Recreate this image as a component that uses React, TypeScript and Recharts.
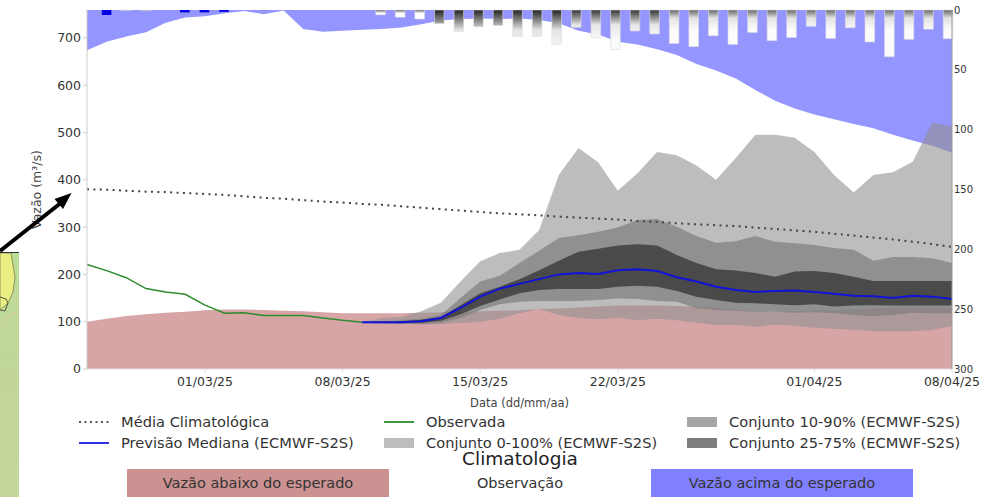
import { Area, Bar, Cell, ComposedChart, Line, XAxis, YAxis } from 'recharts'

const FORECAST_START = 14
const Y_MAX = 759

const dates = ['01/03/25', '08/03/25', '15/03/25', '22/03/25', '01/04/25', '08/04/25']
const dateDays = [6, 13, 20, 27, 37, 44]
const flowTicks = [0, 100, 200, 300, 400, 500, 600, 700]
const rainTicks = [0, 50, 100, 150, 200, 250, 300]

const aboveEdge = [674, 692, 703, 712, 732, 743, 746, 752, 757, 750, 758, 719, 713, 715, 717, 719, 722, 729, 737, 740, 741, 740, 741, 738, 731, 715, 707, 692, 686, 676, 664, 645, 631, 614, 590, 567, 551, 538, 528, 518, 509, 495, 483, 472, 457]
const belowEdge = [100, 106, 112, 116, 119, 121, 124, 126, 126, 125, 123, 122, 120, 118, 118, 118, 118, 119, 120, 121, 122, 123, 124, 127, 128, 130, 132, 134, 134, 134, 133, 132, 130, 126, 122, 121, 122, 124, 125, 126, 128, 130, 130, 130, 129]
const climateMean = [380, 379, 377, 375, 374, 372, 370, 368, 365, 362, 360, 357, 354, 352, 349, 347, 344, 341, 338, 335, 332, 329, 327, 325, 322, 320, 318, 316, 313, 311, 308, 306, 304, 302, 299, 296, 293, 290, 286, 282, 278, 274, 269, 264, 258]
const observed = [221, 208, 193, 170, 163, 158, 135, 118, 119, 113, 113, 113, 108, 103, 99]

// forecast series start at FORECAST_START
const median = [99, 99, 99, 101, 108, 129, 153, 170, 180, 190, 200, 203, 201, 209, 211, 207, 194, 185, 174, 167, 163, 165, 166, 163, 159, 155, 154, 150, 155, 153, 148]
const p0 = [97, 96, 95, 94, 95, 97, 100, 106, 118, 127, 114, 108, 105, 108, 103, 106, 103, 98, 93, 93, 89, 94, 91, 87, 85, 83, 80, 80, 80, 83, 91]
const p100 = [99, 108, 110, 122, 140, 185, 228, 245, 252, 294, 410, 467, 437, 377, 414, 459, 452, 430, 400, 446, 495, 495, 489, 459, 410, 373, 410, 416, 438, 521, 512]
const p10 = [97, 96, 95, 95, 98, 108, 125, 137, 142, 144, 144, 144, 146, 149, 148, 144, 142, 129, 125, 123, 121, 121, 119, 120, 118, 114, 112, 114, 119, 118, 118]
const p90 = [99, 100, 103, 106, 114, 150, 185, 197, 224, 250, 277, 283, 290, 299, 315, 317, 301, 281, 267, 270, 281, 269, 266, 262, 256, 252, 229, 237, 237, 234, 224]
const p25 = [98, 98, 98, 98, 102, 116, 133, 147, 160, 167, 169, 169, 169, 174, 176, 174, 165, 153, 146, 140, 139, 137, 135, 137, 132, 134, 135, 134, 134, 134, 134]
const p75 = [99, 100, 101, 104, 110, 135, 160, 174, 190, 209, 229, 248, 254, 261, 264, 261, 241, 224, 211, 208, 203, 195, 206, 207, 203, 195, 186, 186, 186, 186, 186]

// rain bars, one per day from day 1
const rain = [4.2, 0.4, 0.5, 0, 2, 2, 1.5, 0, 0, 0, 0, 0, 0, 0, 4, 6, 7.5, 11.4, 18, 14, 13, 22, 22, 28.7, 14.5, 23, 33, 17.5, 20, 28, 30.6, 21.5, 28.7, 18.7, 25.6, 23, 13.6, 23.7, 14.8, 26.7, 39, 24.5, 16, 24]
const rainShade = ['blue', 'd', 'd', 'blue', 'blue', 'blue', 'blue', 'd', 'd', 'd', 'd', 'd', 'd', 'd', 'd', 'd', 'd', 'a', 'a', 'a', 'a', 'a', 'a', 'a', 'b', 'b', 'b', 'b', 'b', 'c', 'c', 'c', 'c', 'c', 'c', 'c', 'c', 'c', 'c', 'c', 'c', 'c', 'c', 'c']

const table = aboveEdge.map((edge, day) => {
  const f = day - FORECAST_START
  const inForecast = f >= 0
  return {
    day,
    above: [edge, Y_MAX],
    below: belowEdge[day],
    mean: climateMean[day],
    observed: day < observed.length ? observed[day] : null,
    median: inForecast ? median[f] : null,
    band0: inForecast ? [p0[f], p100[f]] : null,
    band10: inForecast ? [p10[f], p90[f]] : null,
    band25: inForecast ? [p25[f], p75[f]] : null,
    rain: day > 0 ? rain[day - 1] : null,
  }
})

const FONT = '"DejaVu Sans", sans-serif'
const TEXT = '#333'

function Swatch({ x, y, kind, color }: { x: number; y: number; kind: string; color: string }) {
  const box = { position: 'absolute' as const, left: x, top: y - 5, width: 30, height: 10 }
  if (kind === 'patch') return <div style={{ ...box, background: color }} />
  return (
    <svg style={box}>
      <line x1={0} x2={30} y1={5} y2={5} stroke={color} strokeWidth={kind === 'dots' ? 2 : 1.8} strokeDasharray={kind === 'dots' ? '2 3.5' : undefined} />
    </svg>
  )
}

const legendItems = [
  { label: 'Média Climatológica', kind: 'dots', color: '#555', x: 79, y: 421.5 },
  { label: 'Previsão Mediana (ECMWF-S2S)', kind: 'line', color: '#1a1ae0', x: 79, y: 442.5 },
  { label: 'Observada', kind: 'line', color: '#2e8b2e', x: 384, y: 421.5 },
  { label: 'Conjunto 0-100% (ECMWF-S2S)', kind: 'patch', color: '#bdbdbd', x: 384, y: 442.5 },
  { label: 'Conjunto 10-90% (ECMWF-S2S)', kind: 'patch', color: '#a5a5a5', x: 687, y: 421.5 },
  { label: 'Conjunto 25-75% (ECMWF-S2S)', kind: 'patch', color: '#7d7d7d', x: 687, y: 442.5 },
]

const climateCells = [
  { label: 'Vazão abaixo do esperado', color: '#cc9292', left: 127, width: 262 },
  { label: 'Observação', color: '#fff', left: 389, width: 262 },
  { label: 'Vazão acima do esperado', color: '#8080ff', left: 651, width: 262 },
]

export default function App() {
  return (
    <div style={{ position: 'absolute', left: 0, top: 0, width: 984, height: 497, overflow: 'hidden', background: '#fff', fontFamily: FONT, color: TEXT }}>
      <ComposedChart width={984} height={497} data={table} margin={{ top: 10, right: 0, bottom: 90, left: 0 }}>
        <defs>
          <linearGradient id="rain-a" x1="0" y1="10" x2="0" y2="50" gradientUnits="userSpaceOnUse">
            <stop offset="0" stopColor="#222" />
            <stop offset="0.5" stopColor="#e4e4e4" />
            <stop offset="1" stopColor="#fafafa" />
          </linearGradient>
          <linearGradient id="rain-b" x1="0" y1="10" x2="0" y2="40" gradientUnits="userSpaceOnUse">
            <stop offset="0" stopColor="#333" />
            <stop offset="0.5" stopColor="#e8e8e8" />
            <stop offset="1" stopColor="#fafafa" />
          </linearGradient>
          <linearGradient id="rain-c" x1="0" y1="10" x2="0" y2="30" gradientUnits="userSpaceOnUse">
            <stop offset="0" stopColor="#666" />
            <stop offset="0.4" stopColor="#e2e2e2" />
            <stop offset="1" stopColor="#fcfcfc" />
          </linearGradient>
          <linearGradient id="rain-d" x1="0" y1="10" x2="0" y2="15" gradientUnits="userSpaceOnUse">
            <stop offset="0" stopColor="#555" />
            <stop offset="0.6" stopColor="#fff" />
          </linearGradient>
        </defs>
        <XAxis
          xAxisId="day"
          dataKey="day"
          type="number"
          domain={[0, 44]}
          ticks={dateDays}
          interval={0}
          tickFormatter={(d: number) => dates[dateDays.indexOf(d)]}
          height={38}
          stroke="#ddd"
          tick={{ fill: TEXT, fontSize: 12.5, fontFamily: FONT }}
          tickSize={4}
          tickMargin={4}
          label={{ value: 'Data (dd/mm/aa)', position: 'insideBottom', offset: 0, fill: '#444', fontSize: 11.5, fontFamily: FONT }}
        />
        <XAxis xAxisId="rainDay" dataKey="day" type="number" domain={[0.2, 44.2]} hide height={0} />
        <YAxis
          yAxisId="flow"
          width={87}
          domain={[0, Y_MAX]}
          ticks={flowTicks}
          interval={0}
          stroke="#ccc"
          tick={{ fill: TEXT, fontSize: 12.5, fontFamily: FONT }}
          tickSize={4}
          label={{ value: 'Vazão (m³/s)', angle: -90, position: 'insideLeft', offset: 37, fill: '#444', fontSize: 12.5, fontFamily: FONT, textAnchor: 'middle' }}
        />
        <YAxis
          yAxisId="rain"
          orientation="right"
          reversed
          width={32}
          domain={[0, 300]}
          ticks={rainTicks}
          interval={0}
          stroke="#999"
          tick={{ fill: TEXT, fontSize: 10, fontFamily: FONT }}
          tickSize={0}
          tickMargin={2}
        />

        <Area xAxisId="day" yAxisId="flow" dataKey="above" stroke="none" fill="#9595ff" fillOpacity={1} isAnimationActive={false} />
        <Area xAxisId="day" yAxisId="flow" dataKey="below" stroke="none" fill="#d8a5a7" fillOpacity={1} isAnimationActive={false} />
        <Area xAxisId="day" yAxisId="flow" dataKey="band0" stroke="none" fill="#919191" fillOpacity={0.6} isAnimationActive={false} />
        <Area xAxisId="day" yAxisId="flow" dataKey="band10" stroke="none" fill="#7e7e7e" fillOpacity={0.7} isAnimationActive={false} />
        <Area xAxisId="day" yAxisId="flow" dataKey="band25" stroke="none" fill="#101010" fillOpacity={0.545} isAnimationActive={false} />
        <Line xAxisId="day" yAxisId="flow" dataKey="mean" stroke="#444" strokeWidth={2} strokeDasharray="2 4.4" dot={false} isAnimationActive={false} />
        <Line xAxisId="day" yAxisId="flow" dataKey="observed" stroke="#2e8b2e" strokeWidth={1.5} dot={false} isAnimationActive={false} />
        <Line xAxisId="day" yAxisId="flow" dataKey="median" stroke="#1212d8" strokeWidth={2} dot={false} isAnimationActive={false} />
        <Bar xAxisId="rainDay" yAxisId="rain" dataKey="rain" barSize={9.6} isAnimationActive={false}>
          {table.map((d) => {
            const shade = rainShade[d.day - 1]
            const solid = !shade || shade === 'blue'
            return <Cell key={d.day} fill={solid ? '#0000e0' : `url(#rain-${shade})`} stroke={solid ? 'none' : '#ddd'} strokeWidth={0.6} />
          })}
        </Bar>
      </ComposedChart>

      {legendItems.map((item) => (
        <div key={item.label}>
          <Swatch x={item.x} y={item.y} kind={item.kind} color={item.color} />
          <div style={{ position: 'absolute', left: item.x + 42, top: item.y - 10, fontSize: 14.65, lineHeight: '20px', whiteSpace: 'nowrap' }}>{item.label}</div>
        </div>
      ))}

      <div style={{ position: 'absolute', left: 400, width: 240, top: 448, textAlign: 'center', fontSize: 18.5, lineHeight: '22px', color: '#222' }}>Climatologia</div>
      <div style={{ position: 'absolute', left: 127, width: 786, top: 469, height: 1, background: '#ddd' }} />
      {climateCells.map((cell) => (
        <div key={cell.label} style={{ position: 'absolute', left: cell.left, width: cell.width, top: 469, height: 28, lineHeight: '28px', background: cell.color, textAlign: 'center', fontSize: 14.5 }}>
          {cell.label}
        </div>
      ))}

      {/* pedaco do mapa e seta que sobrepoem o grafico */}
      <svg width={984} height={497} style={{ position: 'absolute', left: 0, top: 0, pointerEvents: 'none' }}>
        <defs>
          <linearGradient id="map-bg" x1="0" y1="0" x2="0" y2="1">
            <stop offset="0" stopColor="#bcdc9a" />
            <stop offset="0.5" stopColor="#c2d69a" />
            <stop offset="1" stopColor="#c4d79c" />
          </linearGradient>
        </defs>
        <rect x={0} y={252} width={19} height={245} fill="url(#map-bg)" />
        <path d="M0 253 L11 253 L15 277 L13 292 L8 303 L0 310 Z" fill="#e9ef83" stroke="#7d8048" strokeWidth={0.8} />
        <path d="M0 297 L6 299 L8 303 L5 311 L0 310" fill="none" stroke="#555532" strokeWidth={1} />
        <path d="M0 330 L6 318 L19 311" fill="none" stroke="#d6d09c" strokeWidth={1.2} />
        <line x1={0} x2={19} y1={252.5} y2={252.5} stroke="#333" strokeWidth={1} />
        <line x1={0} y1={251} x2={62} y2={202} stroke="#000" strokeWidth={4} />
        <polygon points="71.5,193 63,209 54.5,199" fill="#000" />
      </svg>
    </div>
  )
}
